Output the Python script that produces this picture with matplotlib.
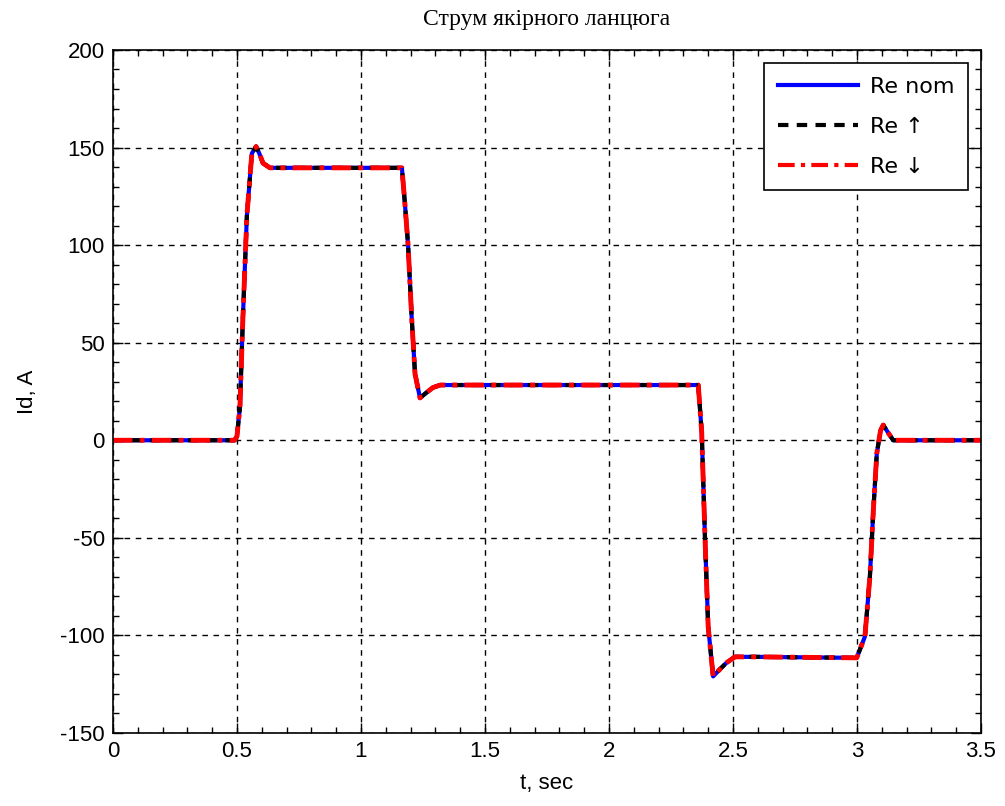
import matplotlib
matplotlib.use("Agg")
import matplotlib.pyplot as plt
from matplotlib.ticker import MultipleLocator

plt.rcParams['font.family'] = ['Liberation Sans', 'DejaVu Sans']
plt.rcParams['axes.unicode_minus'] = False

# armature current
t_pts = [0.0, 0.49, 0.50, 0.512, 0.524, 0.540, 0.560, 0.577, 0.59, 0.605, 0.633, 0.70,
         1.165, 1.177, 1.19, 1.205, 1.218, 1.238, 1.26, 1.29, 1.32, 1.40,
         2.36, 2.374, 2.387, 2.40, 2.42, 2.45, 2.474, 2.508, 2.60,
         2.999, 3.032, 3.052, 3.066, 3.08, 3.095, 3.106, 3.125, 3.146, 3.5]
id_nom = [0, 0, 2, 17, 63, 115, 147, 150.5, 147, 142, 139.6, 139.6,
          139.6, 121.5, 100, 61.6, 34, 21.7, 24, 27, 28.3, 28.3,
          28.3, 4, -49.4, -95.5, -121, -117, -114, -111, -111,
          -111.5, -100.6, -70, -35.7, -6.7, 5, 7.8, 4, 0, 0]
id_up = list(id_nom)
id_down = list(id_nom)

labels = ['Re nom', 'Re \u2191', 'Re \u2193']

fig = plt.figure(figsize=(10.05, 8.06), dpi=100)
ax = fig.add_axes([0.1124, 0.0906, 0.8637, 0.8474])

ax.plot(t_pts, id_nom, color='blue', linewidth=3, label=labels[0])
ax.plot(t_pts, id_up, color='black', linestyle=(0, (2.5, 2)), linewidth=3, label=labels[1])
ax.plot(t_pts, id_down, color='red', linestyle=(0, (4, 1.5, 1, 1.5)), linewidth=3.5, label=labels[2])

ax.set_xlim(0, 3.5)
ax.set_ylim(-150, 200)
ax.set_xticks([0, 0.5, 1, 1.5, 2, 2.5, 3, 3.5])
ax.set_xticklabels(['0', '0.5', '1', '1.5', '2', '2.5', '3', '3.5'])
ax.xaxis.set_minor_locator(MultipleLocator(0.1))
ax.yaxis.set_major_locator(MultipleLocator(50))
ax.yaxis.set_minor_locator(MultipleLocator(10))
ax.tick_params(which='both', direction='in', top=True, right=True, labelsize=16, color='black')
ax.tick_params(which='major', length=7, width=1, pad=6)
ax.tick_params(which='minor', length=4, width=1)
for s in ax.spines.values():
    s.set_linewidth(1.2)
    s.set_color('black')

ax.grid(True, which='major', color='black', linestyle=(0, (4, 4)), linewidth=1)

ax.set_title('Струм якірного ланцюга', family='Liberation Serif', fontsize=17, pad=18)
ax.set_xlabel('t, sec', fontsize=16, labelpad=8)
ax.set_ylabel('Id, A', fontsize=16, labelpad=16)

leg = ax.legend(loc='upper right', prop={'family': ['DejaVu Sans'], 'size': 16},
                fancybox=False, framealpha=1, edgecolor='black', handlelength=3.6,
                borderaxespad=0.6, borderpad=0.6, labelspacing=0.9, handletextpad=0.55)
leg.get_frame().set_linewidth(1.2)
for ln in leg.get_lines():
    ln.set_linewidth(3)

fig.savefig('out.png', dpi=100)
